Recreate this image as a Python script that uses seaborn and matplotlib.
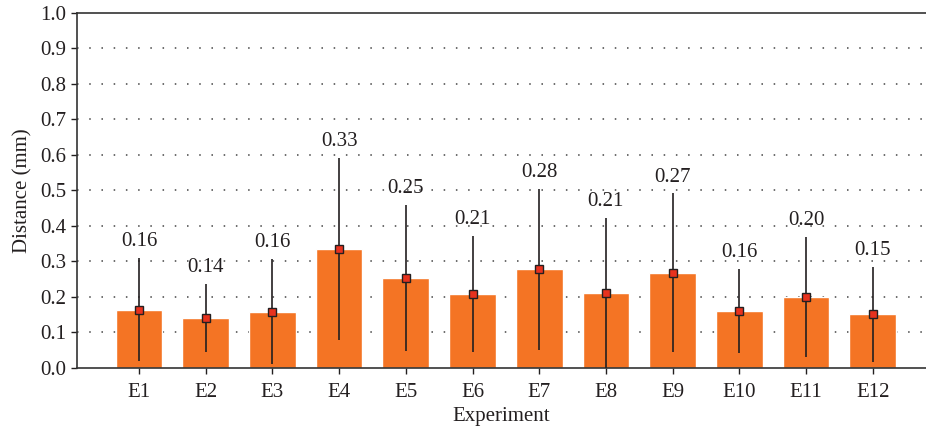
import numpy as np
import pandas as pd
import matplotlib
matplotlib.use('Agg')
import matplotlib.pyplot as plt
import seaborn as sns

# Data
experiments = ['E1', 'E2', 'E3', 'E4', 'E5', 'E6', 'E7', 'E8', 'E9', 'E10', 'E11', 'E12']
mean_dist = [0.163, 0.140, 0.158, 0.334, 0.253, 0.208, 0.278, 0.210, 0.267, 0.160, 0.200, 0.151]
low_dist = [0.019, 0.045, 0.010, 0.077, 0.048, 0.043, 0.049, 0.000, 0.043, 0.040, 0.030, 0.015]
high_dist = [0.310, 0.236, 0.306, 0.590, 0.458, 0.371, 0.503, 0.421, 0.491, 0.278, 0.368, 0.285]
y_ticks = [0.0, 0.1, 0.2, 0.3, 0.4, 0.5, 0.6, 0.7, 0.8, 0.9, 1.0]

BAR_COLOR = '#F47424'
MARK_COLOR = '#E8321E'
INK = '#231F20'
FS = 15

sns.set_style('white')
plt.rcParams['font.family'] = ['Liberation Serif', 'DejaVu Serif']
plt.rcParams['font.size'] = FS

df = pd.DataFrame({'Experiment': experiments, 'Distance': mean_dist,
                   'low': low_dist, 'high': high_dist})

fig = plt.figure(figsize=(9.26, 4.32), dpi=100)
ax = fig.add_axes([0.0832, 0.149, 0.9168, 0.821])

sns.barplot(data=df, x='Experiment', y='Distance', color=BAR_COLOR,
            saturation=1, width=0.70, errorbar=None, ax=ax, zorder=2)

xpos = np.arange(len(experiments))
ax.vlines(xpos, df['low'], df['high'], color=INK, lw=1.2, zorder=3)
ax.plot(xpos, df['Distance'], ls='none', marker='s', ms=5.5,
        mfc=MARK_COLOR, mec=INK, mew=1.0, zorder=4)

for x, m, h in zip(xpos, df['Distance'], df['high']):
    ax.annotate(f'{m:.2f}', (x, h), xytext=(0, 5), textcoords='offset points',
                ha='center', va='bottom', color=INK, fontsize=FS)

# dotted grid
for y in y_ticks[1:-1]:
    ax.axhline(y, color='#444444', lw=1.1, ls=(0, (1, 7)), zorder=1)

ax.set_ylim(0, 1.0)
ax.set_xlim(-0.93, 11.8)
ax.set_yticks(y_ticks)
ax.set_yticklabels([f'{v:.1f}' for v in y_ticks])
ax.set_xlabel('Experiment', color=INK, fontsize=FS, labelpad=4)
ax.set_ylabel('Distance (mm)', color=INK, fontsize=FS, labelpad=6)

for side in ['left', 'bottom', 'top']:
    ax.spines[side].set_color('#333333')
    ax.spines[side].set_linewidth(1.2)
ax.spines['right'].set_visible(False)
ax.tick_params(axis='both', colors=INK, labelcolor=INK, labelsize=FS,
               direction='out', length=4, width=1.0, left=True, bottom=True)
ax.tick_params(axis='x', pad=7)

fig.savefig('out.png', dpi=100)
